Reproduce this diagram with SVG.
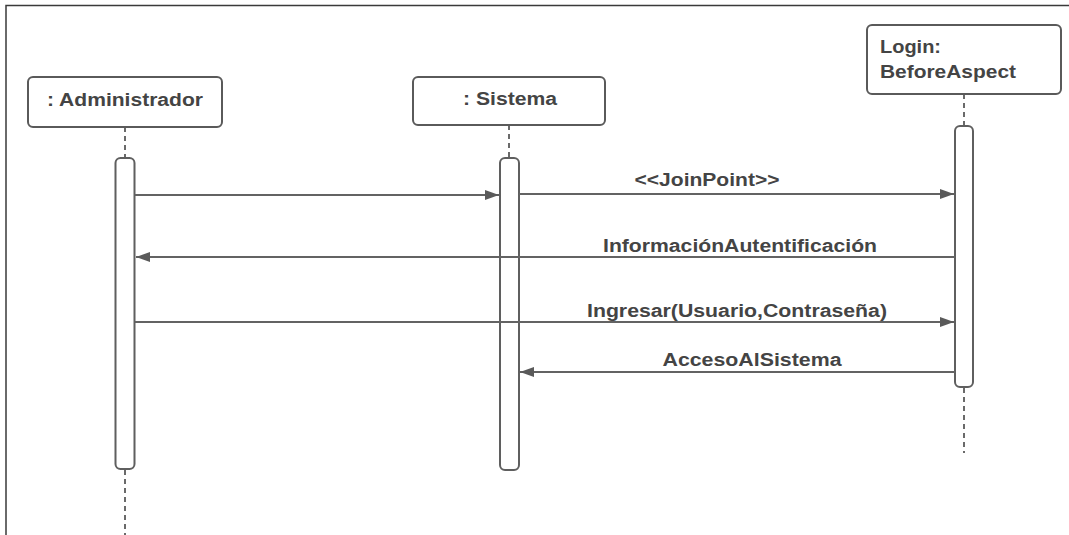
<svg xmlns="http://www.w3.org/2000/svg" width="1069" height="535" viewBox="0 0 1069 535">
<style>
.frame{fill:none;stroke:#3a3a3a;stroke-width:1.5}
.box{fill:#fff;stroke:#5a5a5a;stroke-width:2}
.act{fill:#fff;stroke:#5f5f5f;stroke-width:2}
.life{stroke:#6a6a6a;stroke-width:2;stroke-dasharray:5,4}
.msg{stroke:#636363;stroke-width:2.2;fill:none}
.t{font-family:"Liberation Sans",Arial,sans-serif;font-weight:bold;font-size:17.5px;fill:#444}
</style>
<defs>
<marker id="ah" viewBox="0 0 14 10" refX="14" refY="5" markerWidth="14" markerHeight="10" markerUnits="userSpaceOnUse" orient="auto">
<path d="M0,0 L14,5 L0,10 z" fill="#5a5a5a"/>
</marker>
</defs>
<rect width="1069" height="535" fill="#fff"/>
<path class="frame" d="M6,535 V5.5 H1069"/>
<g id="lifelines">
<line class="life" x1="125" y1="127" x2="125" y2="158"/>
<line class="life" x1="125" y1="470" x2="125" y2="535"/>
<line class="life" x1="509" y1="125" x2="509" y2="158"/>
<line class="life" x1="964" y1="94" x2="964" y2="126"/>
<line class="life" x1="964" y1="388" x2="964" y2="453"/>
</g>
<g id="administrador">
<rect class="box" x="28" y="77" width="194" height="50" rx="5"/>
<text class="t" x="125" y="106" text-anchor="middle" textLength="156" lengthAdjust="spacingAndGlyphs">: Administrador</text>
<rect class="act" x="115.5" y="158" width="19" height="311" rx="5"/>
</g>
<g id="sistema">
<rect class="box" x="413" y="77" width="192" height="48" rx="5"/>
<text class="t" x="510" y="105" text-anchor="middle" textLength="94" lengthAdjust="spacingAndGlyphs">: Sistema</text>
<rect class="act" x="500" y="158" width="19" height="312" rx="5"/>
</g>
<g id="login">
<rect class="box" x="867" y="25" width="194" height="69" rx="5"/>
<text class="t" x="880" y="53" textLength="61" lengthAdjust="spacingAndGlyphs">Login:</text>
<text class="t" x="880" y="78" textLength="136" lengthAdjust="spacingAndGlyphs">BeforeAspect</text>
<rect class="act" x="955" y="126" width="18" height="261" rx="5"/>
</g>
<g id="connectors">
<line class="msg" x1="135" y1="195" x2="499" y2="195" marker-end="url(#ah)"/>
<line class="msg" x1="519" y1="194" x2="954" y2="194" marker-end="url(#ah)"/>
<line class="msg" x1="955" y1="257" x2="136" y2="257" marker-end="url(#ah)"/>
<line class="msg" x1="135" y1="322" x2="954" y2="322" marker-end="url(#ah)"/>
<line class="msg" x1="955" y1="372" x2="520" y2="372" marker-end="url(#ah)"/>
<text class="t" x="707" y="186" text-anchor="middle" textLength="145" lengthAdjust="spacingAndGlyphs">&lt;&lt;JoinPoint&gt;&gt;</text>
<text class="t" x="740" y="252" text-anchor="middle" textLength="274" lengthAdjust="spacingAndGlyphs">InformaciónAutentificación</text>
<text class="t" x="737" y="317" text-anchor="middle" textLength="300" lengthAdjust="spacingAndGlyphs">Ingresar(Usuario,Contraseña)</text>
<text class="t" x="752" y="366" text-anchor="middle" textLength="179" lengthAdjust="spacingAndGlyphs">AccesoAlSistema</text>
</g>
</svg>
